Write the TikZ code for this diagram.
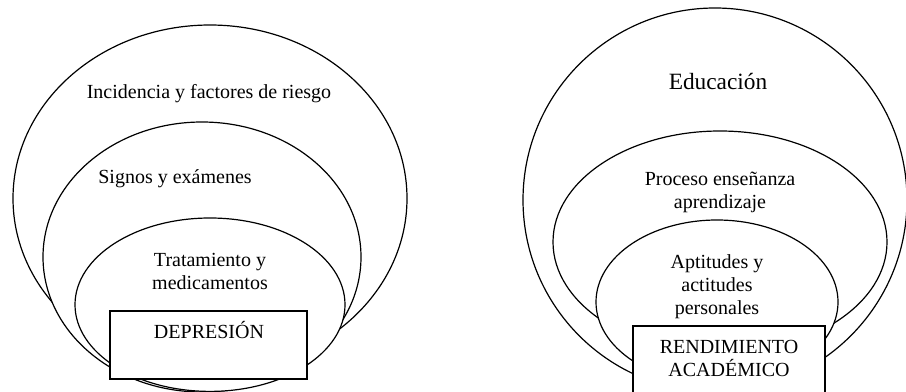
\documentclass[tikz,border=0pt]{standalone}
\usepackage{fontspec}
\setmainfont{Liberation Serif}
\begin{document}
\begin{tikzpicture}[x=0.75pt,y=-0.75pt,
  shapeline/.style={draw, line width=0.9pt, fill=white},
  lbl/.style={inner sep=0pt, font=\fontsize{15}{17.25}\selectfont, align=center}]
\clip (0,0) rectangle (906,392);
\fill[white] (0,0) rectangle (906,392);
% left diagram
\draw[shapeline] (210,198.4) ellipse [x radius=197, y radius=173.4];
\draw[shapeline] (202,257) ellipse [x radius=159, y radius=135];
\draw[shapeline] (210,304.7) ellipse [x radius=135, y radius=86.7];
\draw[shapeline] (110,311) rectangle (307,379);
% right diagram
\draw[shapeline] (715,200) ellipse [x radius=192, y radius=192];
\draw[shapeline] (720,242) ellipse [x radius=167, y radius=111];
\draw[shapeline] (717,302) ellipse [x radius=121, y radius=82];
\draw[shapeline] (633,326) rectangle (825,400);
% labels (base anchor = baseline of the last line)
\node[lbl, anchor=base] (t1) at (209,99) {Incidencia y factores de riesgo};
\node[lbl, anchor=base] (t2) at (175,184) {Signos y exámenes};
\node[lbl, anchor=base] (t3) at (210,289) {Tratamiento y\\medicamentos};
\node[lbl, anchor=base] (t4) at (209,338) {DEPRESIÓN};
\node[lbl, anchor=base, font=\fontsize{17.5}{20}\selectfont] (t5) at (718,90) {Educación};
\node[lbl, anchor=base] (t6) at (720,209) {Proceso enseñanza\\aprendizaje};
\node[lbl, anchor=base] (t7) at (717,314) {Aptitudes y\\actitudes\\personales};
\node[lbl, anchor=base] (t8) at (729,376) {RENDIMIENTO\\ACADÉMICO};
\end{tikzpicture}
\end{document}
